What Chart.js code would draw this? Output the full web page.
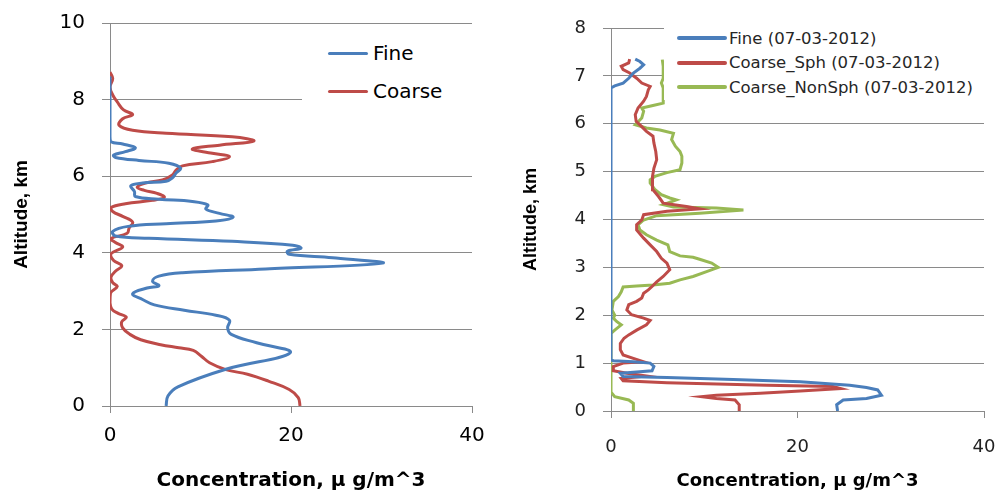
<!DOCTYPE html>
<html>
<head>
<meta charset="utf-8">
<script src="https://cdn.jsdelivr.net/npm/chart.js@4.4.1/dist/chart.umd.min.js"></script>
<style>
  html, body { margin: 0; padding: 0; background: #fff; }
  #wrap { position: relative; width: 997px; height: 491px; overflow: hidden; }
  .panel { position: absolute; top: 0; height: 491px; }
  .legend { position: absolute; background: #fff; }
  .legend .row { position: absolute; display: flex; align-items: center; white-space: nowrap; }
</style>
</head>
<body>
<div id="wrap">
  <div class="panel" style="left:0;width:497px"><canvas id="left" width="497" height="491"></canvas></div>
  <div class="panel" style="left:497px;width:500px"><canvas id="right" width="500" height="491"></canvas></div>
  <div id="legLeft" class="legend" style="left:302px;top:30px;width:195px;height:82px"></div>
  <div id="legRight" class="legend" style="left:664px;top:26px;width:333px;height:74px"></div>
</div>
<script>
// left panel: smoothed profiles (altitude km, concentration µg/m^3)
const fineAlt = [0, 0.26, 0.5, 0.96, 1.39, 1.65, 1.87, 2.04, 2.24, 2.37, 2.5, 2.64, 2.78, 2.93, 3.08, 3.14, 3.26, 3.39, 3.48, 3.58, 3.73, 3.87, 3.96, 4.04, 4.12, 4.2, 4.3, 4.38, 4.44, 4.56, 4.69, 4.76, 4.83, 4.93, 5.03, 5.14, 5.25, 5.34, 5.4, 5.47, 5.6, 5.75, 5.82, 5.87, 5.96, 6.08, 6.21, 6.34, 6.41, 6.49, 6.55, 6.64, 6.74, 6.84, 6.9, 7.03, 8.6];
const fineConc = [6.2, 6.4, 7.5, 12.8, 19.9, 16.2, 13.4, 13.0, 13.2, 11.7, 8.2, 4.9, 3.6, 2.5, 4.1, 5.4, 4.7, 5.4, 8.0, 17.2, 30.1, 24.6, 19.8, 19.6, 21.1, 20.2, 13.5, 4.3, 0.6, 0.3, 2.0, 6.2, 11.7, 13.6, 12.1, 10.6, 10.8, 9.1, 5.4, 2.8, 2.7, 2.3, 3.6, 6.2, 6.9, 7.3, 7.8, 6.5, 3.2, 0.6, 0.4, 1.7, 2.8, 1.4, 0.1, 0, 0];
const coarseAlt = [0, 0.22, 0.43, 0.65, 0.83, 0.95, 1.13, 1.3, 1.45, 1.52, 1.6, 1.73, 1.87, 2.04, 2.2, 2.32, 2.42, 2.53, 2.7, 2.95, 3.12, 3.22, 3.36, 3.52, 3.66, 3.8, 3.97, 4.15, 4.27, 4.37, 4.51, 4.64, 4.8, 4.95, 5.08, 5.18, 5.28, 5.37, 5.45, 5.55, 5.63, 5.71, 5.82, 5.9, 6.03, 6.16, 6.27, 6.38, 6.51, 6.6, 6.71, 6.81, 6.92, 7.03, 7.12, 7.2, 7.33, 7.5, 7.61, 7.73, 7.94, 8.12, 8.33, 8.55, 8.72];
const coarseConc = [21.0, 20.8, 19.8, 17.5, 15.2, 12.8, 11.0, 10.1, 9.2, 7.6, 5.6, 3.4, 2.2, 1.4, 1.3, 1.8, 0.9, 0.2, 0, 0.05, 0.8, 0.3, 0.1, 0.6, 1.3, 0.4, 0.1, 1.4, 0.6, 0.1, 1.9, 2.1, 2.5, 1.4, 0.3, 0.1, 1.7, 4.7, 6.0, 5.2, 3.8, 3.0, 3.9, 5.8, 6.9, 7.3, 8.0, 11.3, 13.2, 11.3, 9.1, 12.1, 15.9, 13.5, 6.2, 2.5, 1.0, 1.4, 2.5, 1.5, 0.8, 0.3, 0, 0.3, 0];

// right panel: 07-03-2012 profiles
const fine12Alt = [0, 0.13, 0.23, 0.26, 0.33, 0.44, 0.49, 0.54, 0.61, 0.66, 0.7, 0.72, 0.79, 0.81, 0.84, 0.93, 1.0, 1.03, 1.05, 1.07, 6.75, 6.79, 6.85, 6.95, 7.06, 7.16, 7.23, 7.3, 7.35];
const fine12Conc = [24.3, 24.2, 24.9, 27.4, 29.0, 28.6, 27.4, 25.6, 20.3, 13.1, 6.0, 1.3, 1.0, 2.4, 4.4, 4.6, 4.2, 2.4, 0.25, 0, 0, 0.4, 1.3, 1.9, 2.4, 3.1, 3.5, 3.1, 2.6];
const sph12Alt = [0, 0.13, 0.23, 0.26, 0.3, 0.33, 0.37, 0.42, 0.47, 0.51, 0.54, 0.59, 0.63, 0.68, 0.73, 0.79, 0.84, 0.93, 1.0, 1.03, 1.1, 1.17, 1.28, 1.41, 1.52, 1.59, 1.69, 1.8, 1.89, 1.94, 2.01, 2.11, 2.22, 2.29, 2.36, 2.46, 2.53, 2.6, 2.7, 2.81, 2.95, 3.09, 3.19, 3.33, 3.47, 3.61, 3.78, 3.89, 3.99, 4.1, 4.17, 4.22, 4.27, 4.34, 4.48, 4.62, 4.76, 4.9, 5.07, 5.25, 5.42, 5.6, 5.74, 5.84, 5.94, 6.05, 6.19, 6.33, 6.47, 6.57, 6.71, 6.78, 6.85, 6.95, 7.06, 7.13, 7.2, 7.27, 7.35];
const sph12Conc = [13.75, 13.75, 13.3, 11.3, 9.7, 11.3, 16.0, 20.3, 24.6, 23.8, 16.7, 6.0, 1.3, 1.1, 3.8, 1.7, 0.25, 0.25, 1.3, 3.5, 2.4, 1.3, 1.0, 1.0, 1.4, 1.9, 2.75, 3.8, 4.2, 3.5, 2.2, 1.7, 1.9, 2.75, 3.3, 3.5, 4.0, 4.4, 4.9, 5.6, 6.3, 6.0, 5.4, 4.9, 4.2, 3.5, 2.75, 2.75, 3.3, 3.5, 6.0, 9.5, 8.1, 5.6, 5.1, 4.5, 4.4, 4.5, 4.6, 4.9, 4.8, 4.6, 4.5, 3.8, 3.3, 2.7, 2.6, 2.9, 3.5, 3.8, 4.0, 4.2, 3.3, 2.75, 2.0, 1.3, 1.1, 1.9, 2.0];
const nonSph12Alt = [0, 0.16, 0.23, 0.3, 0.37, 1.62, 1.69, 1.8, 1.87, 1.94, 2.0, 2.11, 2.29, 2.39, 2.49, 2.59, 2.61, 2.63, 2.67, 2.74, 2.81, 2.91, 3.0, 3.09, 3.17, 3.21, 3.24, 3.33, 3.47, 3.57, 3.68, 3.78, 3.89, 3.99, 4.08, 4.13, 4.2, 4.24, 4.26, 4.31, 4.41, 4.45, 4.52, 4.63, 4.76, 4.83, 4.9, 4.98, 5.04, 5.18, 5.32, 5.42, 5.53, 5.67, 5.8, 5.87, 5.91, 5.98, 6.12, 6.26, 6.33, 6.38, 6.43, 6.57, 6.75, 6.85, 6.95, 7.2, 7.34];
const nonSph12Conc = [2.4, 2.4, 1.9, 0.4, 0.1, 0, 0.4, 1.1, 0.6, 0.25, 0.4, 0.1, 0.25, 0.8, 1.1, 1.3, 2.75, 4.5, 6.3, 7.4, 8.8, 10.25, 11.5, 10.8, 9.5, 8.8, 7.4, 6.3, 6.1, 4.9, 3.8, 3.1, 2.9, 3.5, 4.9, 9.5, 14.2, 11.3, 6.7, 5.6, 7.0, 6.3, 5.4, 4.7, 4.2, 4.2, 4.7, 6.0, 7.4, 7.6, 7.6, 7.4, 6.9, 6.5, 6.7, 5.25, 3.8, 2.6, 3.3, 3.5, 3.3, 4.5, 5.6, 5.6, 5.6, 5.4, 5.6, 5.6, 5.5];

const BLUE = '#4A7EBB', RED = '#BE4B48', GREEN = '#98B954', GRID = '#8a8a8a';

const toPoints = (alt, conc) => alt.map((a, i) => ({ x: conc[i], y: a }));

function series(label, alt, conc, color, tension) {
    return { label, data: toPoints(alt, conc), borderColor: color, backgroundColor: color,
             borderWidth: 3, pointRadius: 0, showLine: true, tension: tension };
}

function makeChart(id, datasets, o) {
    return new Chart(document.getElementById(id), {
        type: 'scatter',
        data: { datasets },
        options: {
            responsive: false, animation: false, devicePixelRatio: 1,
            layout: { padding: { top: o.padTop, right: o.padRight, left: 0, bottom: 0 } },
            plugins: { legend: { display: false }, tooltip: { enabled: false } },
            scales: {
                x: {
                    min: 0, max: 40,
                    ticks: { stepSize: 20, color: o.tickColor, padding: o.xTickPad, font: { family: 'DejaVu Sans', size: o.tickSize } },
                    grid: { drawOnChartArea: false, tickLength: 7, color: GRID },
                    border: { color: GRID },
                    title: { display: true, text: 'Concentration, μ g/m^3', color: '#000',
                             font: { family: 'DejaVu Sans', weight: 'bold', size: o.xTitleSize }, padding: { top: 0, bottom: o.xTitlePad } },
                    afterFit: s => { s.height = o.xHeight; s.paddingLeft = 0; s.paddingRight = 0; }
                },
                y: {
                    min: 0, max: o.yMax,
                    ticks: { stepSize: o.yStep, color: o.tickColor, padding: 17, font: { family: 'DejaVu Sans', size: o.tickSize } },
                    grid: { tickLength: 8, color: GRID },
                    border: { color: GRID },
                    title: { display: true, text: 'Altitude, km', color: '#000',
                             font: { family: 'Liberation Sans', weight: 'bold', size: o.yTitleSize }, padding: { top: o.yTitlePad, bottom: 0 } },
                    afterFit: s => { s.width = o.yWidth; s.paddingTop = 0; s.paddingBottom = 0; }
                }
            }
        }
    });
}

// html legend built from the chart datasets, drawn on white so it masks the plot
function htmlLegend(chart, boxId, o) {
    const box = document.getElementById(boxId);
    chart.data.datasets.forEach((ds, i) => {
        const row = document.createElement('div');
        row.className = 'row';
        row.style.left = o.left + 'px';
        row.style.top = (o.firstY + i * o.step - 12) + 'px';
        row.style.height = '24px';
        const sw = document.createElement('span');
        sw.style.cssText = `display:inline-block;width:${o.sw}px;height:${o.lw}px;background:${ds.borderColor};border-radius:2px`;
        const txt = document.createElement('span');
        txt.textContent = ds.label;
        txt.style.marginLeft = o.gap + 'px';
        txt.style.fontFamily = 'DejaVu Sans';
        txt.style.fontSize = o.size + 'px';
        txt.style.color = o.color;
        row.appendChild(sw);
        row.appendChild(txt);
        box.appendChild(row);
    });
}

const leftChart = makeChart('left', [
    series('Fine', fineAlt, fineConc, BLUE, 0.4),
    series('Coarse', coarseAlt, coarseConc, RED, 0.4)
], { padTop: 23, padRight: 25, yMax: 10, yStep: 2, tickSize: 20, tickColor: '#000', xTickPad: 11,
     xTitleSize: 20, xTitlePad: -2, yTitleSize: 19, yTitlePad: 10, xHeight: 85, yWidth: 110 });

const rightChart = makeChart('right', [
    series('Fine (07-03-2012)', fine12Alt, fine12Conc, BLUE, 0),
    series('Coarse_Sph (07-03-2012)', sph12Alt, sph12Conc, RED, 0),
    series('Coarse_NonSph (07-03-2012)', nonSph12Alt, nonSph12Conc, GREEN, 0)
], { padTop: 28, padRight: 13, yMax: 8, yStep: 1, tickSize: 18, tickColor: '#222', xTickPad: 19,
     xTitleSize: 18, xTitlePad: -1, yTitleSize: 18, yTitlePad: 23, xHeight: 80, yWidth: 114 });

htmlLegend(leftChart, 'legLeft', { left: 26, firstY: 23, step: 38, sw: 40, lw: 3, gap: 5, size: 20, color: '#000' });
htmlLegend(rightChart, 'legRight', { left: 13, firstY: 12, step: 24.5, sw: 50, lw: 4, gap: 2, size: 16.5, color: '#262626' });
</script>
</body>
</html>
